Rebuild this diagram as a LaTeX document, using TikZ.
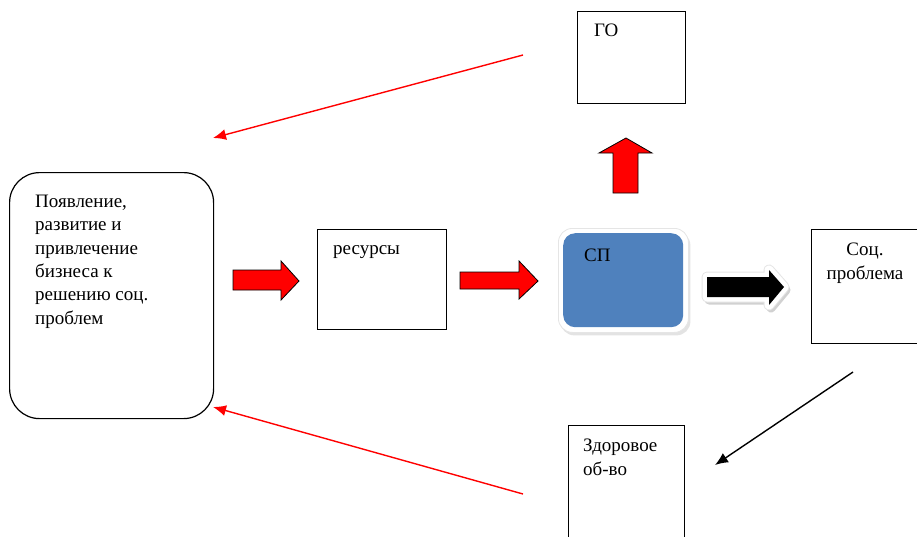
\documentclass[tikz,border=0pt]{standalone}
\usepackage{fontspec}
\setmainfont{Liberation Serif}
\usetikzlibrary{shadows,arrows.meta}
\definecolor{spblue}{HTML}{4F81BD}
\definecolor{arrred}{HTML}{FF0000}
\tikzset{
  box/.style={draw=black, line width=1.2pt, fill=white, inner sep=0pt},
  txt/.style={inner sep=0pt, font=\fontsize{19}{23.3}\selectfont, align=left},
  thin/.style={line width=1.4pt, -{Latex[length=13pt,width=11pt]}},
  blockarrow/.style={fill=arrred, draw=black, line width=0.8pt, line join=miter},
}
\begin{document}
\begin{tikzpicture}[x=1pt,y=-1pt]
\useasboundingbox (0,0) rectangle (917,536);
\clip (0,0) rectangle (917,536);
% left rounded box
\node[box, rounded corners=30pt, minimum width=204pt, minimum height=246pt, anchor=north west] (left) at (9,172) {};
\node[txt, anchor=north west] (lefttxt) at (35,195) {Появление,\\развитие и\\привлечение\\бизнеса к\\решению соц.\\проблем};
% resources
\node[box, minimum width=129pt, minimum height=100pt, anchor=north west] (res) at (317,229) {};
\node[txt, anchor=north west] (restxt) at (333,245) {ресурсы};
% GO
\node[box, minimum width=108pt, minimum height=92pt, anchor=north west] (go) at (577,11) {};
\node[txt, anchor=north west] (gotxt) at (594,24) {ГО};
% soc problem
\node[box, minimum width=106pt, minimum height=114pt, anchor=north west] (soc) at (811,229) {};
\node[txt, anchor=north, align=center] (soctxt) at (865,243) {Соц.\\проблема};
% healthy society
\node[box, minimum width=116pt, minimum height=130pt, anchor=north west] (zdr) at (568,425) {};
\node[txt, anchor=north west] (zdrtxt) at (583,439) {Здоровое\\об-во};
% SP
\node[fill=white, draw=black!10, line width=0.8pt, rounded corners=14pt, minimum width=130pt, minimum height=104pt, anchor=north west,
  drop shadow={shadow xshift=2pt, shadow yshift=-3pt, fill=black!22}] (spouter) at (558,228) {};
\node[fill=spblue, rounded corners=12pt, minimum width=120pt, minimum height=94pt, anchor=north west] (sp) at (563,233) {};
\node[txt, anchor=north west] (sptxt) at (584,249) {СП};
% block arrows
\draw[blockarrow] (233,270) -- (281,270) -- (281,261) -- (299,281) -- (281,300) -- (281,290) -- (233,290) -- cycle;
\draw[blockarrow] (460,272) -- (519,272) -- (519,261) -- (538,281) -- (519,299) -- (519,289) -- (460,289) -- cycle;
\draw[blockarrow] (613,193) -- (613,153) -- (599,153) -- (626,138) -- (652,153) -- (638,153) -- (638,193) -- cycle;
% black arrow with glow
\path[fill=black!18, draw=black!18, line width=9pt, line join=round, shift={(2,3)}]
  (707,277) -- (769,277) -- (769,270) -- (784,287) -- (769,305) -- (769,297) -- (707,297) -- cycle;
\path[fill=black!10, draw=black!10, line width=11pt, line join=round]
  (707,277) -- (769,277) -- (769,270) -- (784,287) -- (769,305) -- (769,297) -- (707,297) -- cycle;
\path[fill=white, draw=white, line width=9pt, line join=round]
  (707,277) -- (769,277) -- (769,270) -- (784,287) -- (769,305) -- (769,297) -- (707,297) -- cycle;
\fill[black] (707,277) -- (769,277) -- (769,270) -- (784,287) -- (769,305) -- (769,297) -- (707,297) -- cycle;
% thin connectors
\coordinate (r1s) at (523,55);
\coordinate (r1e) at (213,138);
\coordinate (r2s) at (523,494);
\coordinate (r2e) at (213,407);
\coordinate (bks) at (853,372);
\coordinate (bke) at (715,465);
\draw[thin, arrred] (r1s) -- (r1e);
\draw[thin, arrred] (r2s) -- (r2e);
\draw[thin, black] (bks) -- (bke);
\end{tikzpicture}
\end{document}
